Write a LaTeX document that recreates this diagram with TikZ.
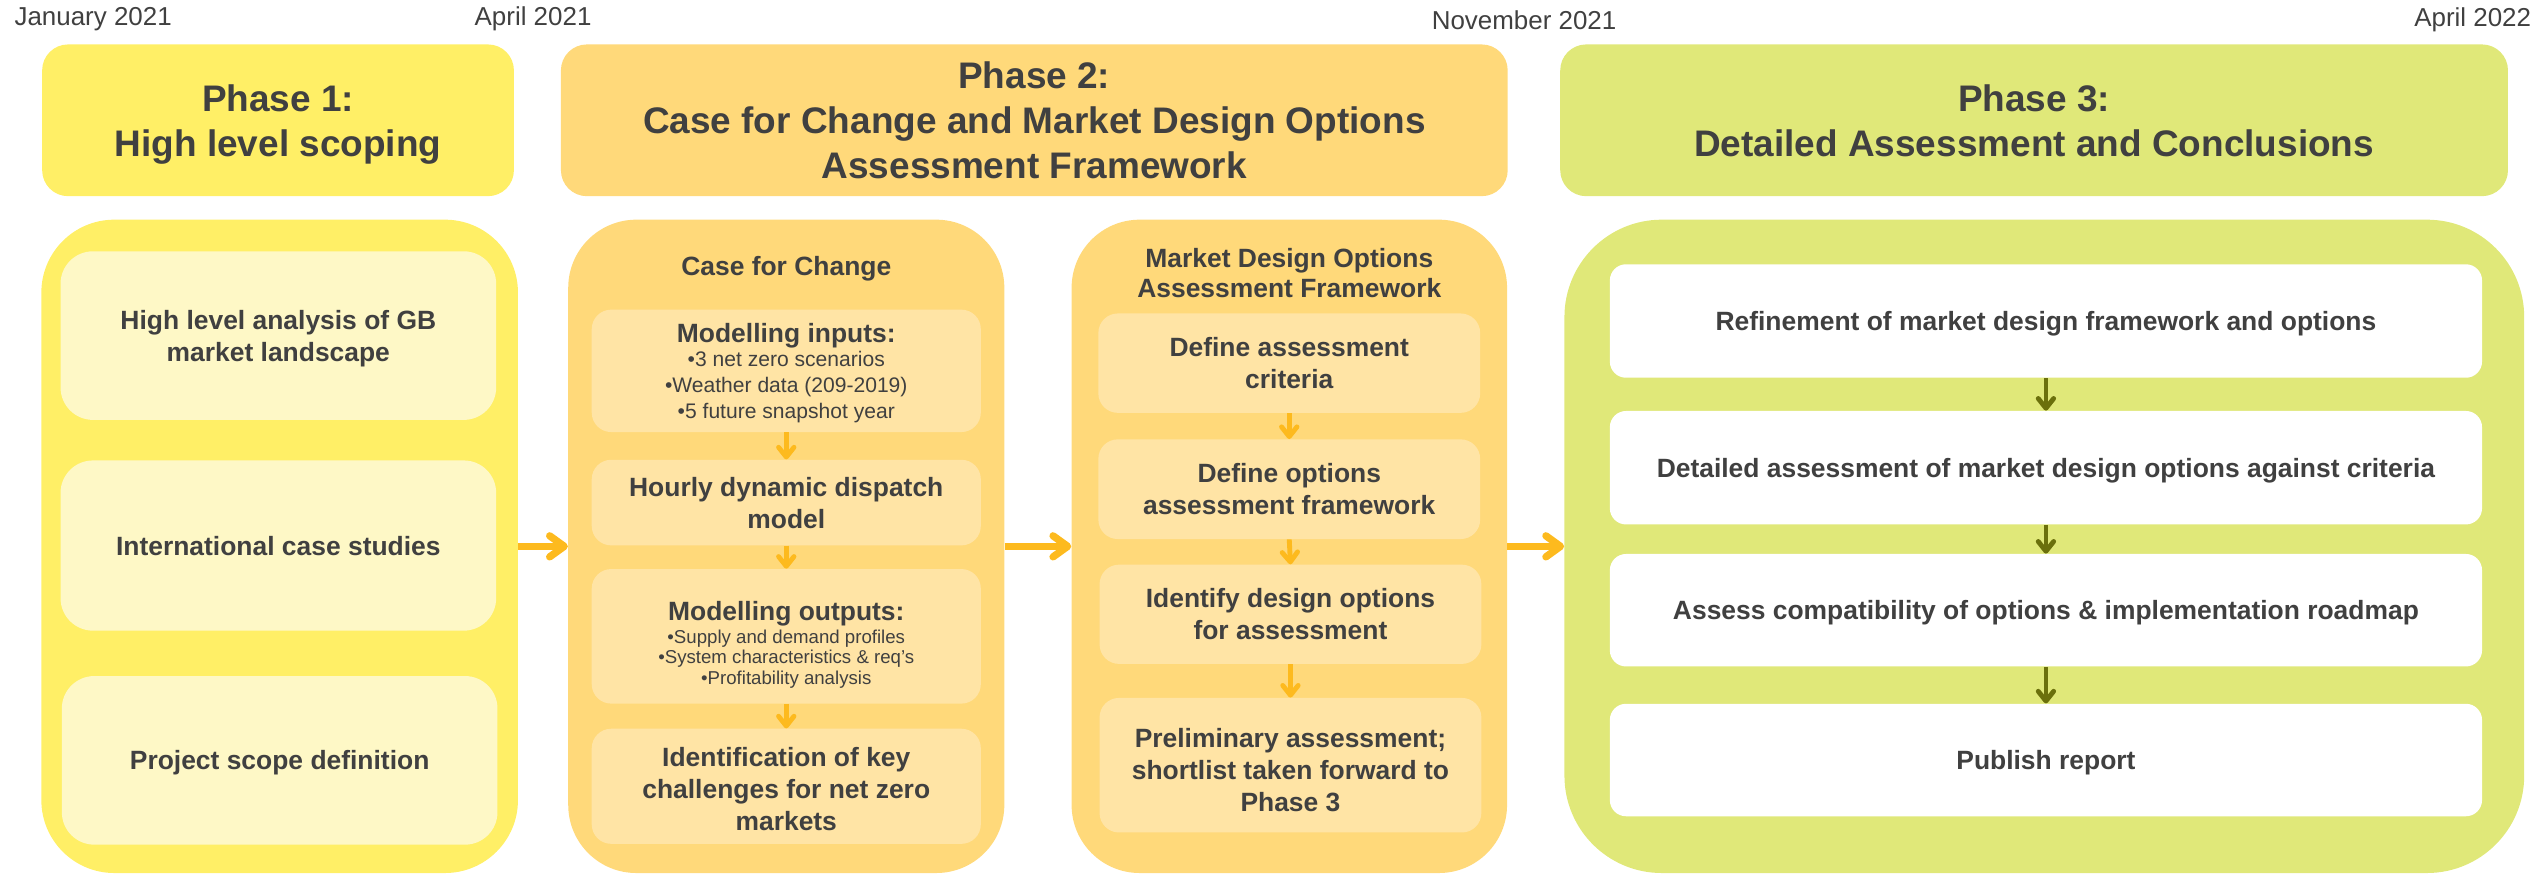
\documentclass[tikz,border=0pt]{standalone}
\usepackage{fontspec}
\setmainfont{Liberation Sans}
\usetikzlibrary{arrows.meta}
\definecolor{pyellow}{HTML}{FFEF66}
\definecolor{pyellowlt}{HTML}{FEF8C6}
\definecolor{porange}{HTML}{FFD97A}
\definecolor{porangelt}{HTML}{FFE4A5}
\definecolor{pgreen}{HTML}{E0E879}
\definecolor{txt}{HTML}{404040}
\definecolor{arr}{HTML}{FDBA1E}
\definecolor{olivearr}{HTML}{6B700C}
\newcommand{\hdrfont}{\fontsize{22.8}{27.7}\selectfont\bfseries}
\newcommand{\boxfont}{\fontsize{16.3}{19.6}\selectfont\bfseries}
\newcommand{\datefont}{\fontsize{16}{19}\selectfont}
\begin{document}
\begin{tikzpicture}[x=1pt,y=-1pt,
 hdr/.style={fill=#1, rounded corners=16pt, inner sep=0pt, text=txt, align=center, font=\hdrfont, text depth=0pt},
 outer/.style={fill=#1, inner sep=0pt, minimum height=403pt},
 ibox/.style={fill=#1, inner sep=0pt, text=txt, align=center, font=\boxfont, text depth=0pt},
 itext/.style={inner sep=0pt, text=txt, align=center, font=\boxfont, text depth=0pt},
 datelbl/.style={text=txt, font=\datefont, inner sep=0pt, anchor=base west},
 bigarrow/.style={draw=arr, line width=4.5pt, -{Straight Barb[length=9pt,width=13pt,round]}},
 smallarrow/.style={draw=#1, line width=3pt, -{Straight Barb[length=6pt,width=9.5pt,round]}},
]
\useasboundingbox (0,0) rectangle (1568,539);

% dates
\node[datelbl] (d1) at (8.8,15.5) {January 2021};
\node[datelbl] (d2) at (292.6,15.5) {April 2021};
\node[datelbl] (d3) at (883,18.1) {November 2021};
\node[datelbl] (d4) at (1489,16.5) {April 2022};

% phase headers
\node[hdr=pyellow, minimum width=291pt, minimum height=93.6pt] (h1) at (171.5,74.2) {Phase 1:\\High level scoping};
\node[hdr=porange, minimum width=584pt, minimum height=93.6pt] (h2) at (638,74.2) {Phase 2:\\Case for Change and Market Design Options\\Assessment Framework};
\node[hdr=pgreen, minimum width=584.6pt, minimum height=93.6pt] (h3) at (1254.7,74.2) {Phase 3:\\Detailed Assessment and Conclusions};

% outer columns
\node[outer=pyellow, rounded corners=45pt, minimum width=294pt] (o1) at (172.5,337) {};
\node[outer=porange, rounded corners=42pt, minimum width=269pt] (cfc) at (485,337) {};
\node[outer=porange, rounded corners=42pt, minimum width=268.6pt] (mdo) at (795.3,337) {};
\node[outer=pgreen, rounded corners=60pt, minimum width=592pt] (o3) at (1261,337) {};

% phase 1 boxes
\node[ibox=pyellowlt, rounded corners=20pt, minimum width=268.7pt, minimum height=104pt] (b1) at (171.7,207) {High level analysis of GB\\market landscape};
\node[ibox=pyellowlt, rounded corners=20pt, minimum width=268.7pt, minimum height=105pt] (b2) at (171.7,336.5) {International case studies};
\node[ibox=pyellowlt, rounded corners=20pt, minimum width=268.7pt, minimum height=104pt] (b3) at (172.5,469) {Project scope definition};

% case for change
\node[itext] (cfct) at (485,164) {Case for Change};
\node[ibox=porangelt, rounded corners=12pt, minimum width=240pt, minimum height=75.5pt, font=\fontsize{13}{16}\selectfont] (inp) at (485,228.75)
 {{\fontsize{16.3}{16}\selectfont\bfseries Modelling inputs:}\\[-1.5pt]•3 net zero scenarios\\•Weather data (209-2019)\\•5 future snapshot year};
\node[ibox=porangelt, rounded corners=12pt, minimum width=240pt, minimum height=52.8pt] (hr) at (485,310) {Hourly dynamic dispatch\\model};
\node[ibox=porangelt, rounded corners=12pt, minimum width=240pt, minimum height=83pt] (outp) at (485,392.5) {};
\node[itext, font=\fontsize{11.5}{12.8}\selectfont] (outpt) at (485,396.5)
 {{\fontsize{16.3}{12.8}\selectfont\bfseries Modelling outputs:}\\[1.5pt]•Supply and demand profiles\\•System characteristics \& req’s\\•Profitability analysis};
\node[ibox=porangelt, rounded corners=12pt, minimum width=240pt, minimum height=71pt] (idn) at (485,485) {};
\node[itext] (idnt) at (485,486.5) {Identification of key\\challenges for net zero\\markets};

% market design options
\node[itext, font=\fontsize{16.3}{19}\selectfont\bfseries] (mdot) at (795.3,168.4) {Market Design Options\\Assessment Framework};
\node[ibox=porangelt, rounded corners=12pt, minimum width=235.5pt, minimum height=61.3pt] (m1) at (795.25,224) {Define assessment\\criteria};
\node[ibox=porangelt, rounded corners=12pt, minimum width=235.5pt, minimum height=61.5pt] (m2) at (795.25,301.75) {Define options\\assessment framework};
\node[ibox=porangelt, rounded corners=12pt, minimum width=235.5pt, minimum height=61.2pt] (m3) at (796,378.9) {Identify design options\\for assessment};
\node[ibox=porangelt, rounded corners=12pt, minimum width=235.5pt, minimum height=83pt] (m4) at (796,472) {};
\node[itext] (m4t) at (796,475) {Preliminary assessment;\\shortlist taken forward to\\Phase 3};

% phase 3
\node[ibox=white, rounded corners=10pt, minimum width=538pt, minimum height=70pt] (r1) at (1262,198) {Refinement of market design framework and options};
\node[ibox=white, rounded corners=10pt, minimum width=538pt, minimum height=70pt] (r2) at (1262,288.5) {Detailed assessment of market design options against criteria};
\node[ibox=white, rounded corners=10pt, minimum width=538pt, minimum height=69.4pt] (r3) at (1262,376.4) {Assess compatibility of options \& implementation roadmap};
\node[ibox=white, rounded corners=10pt, minimum width=538pt, minimum height=69.4pt] (r4) at (1262,468.8) {Publish report};

% arrows between phases
\draw[bigarrow] (o1.east) -- (cfc.west);
\draw[bigarrow] (cfc.east) -- (mdo.west);
\draw[bigarrow] (mdo.east) -- (o3.west);

% arrows inside phase 2
\draw[smallarrow=arr] (inp.south) -- (hr.north);
\draw[smallarrow=arr] (hr.south) -- (outp.north);
\draw[smallarrow=arr] (outp.south) -- (idn.north);
\draw[smallarrow=arr] (m1.south) -- (m2.north);
\draw[smallarrow=arr] (m2.south) -- (m3.north);
\draw[smallarrow=arr] (m3.south) -- (m4.north);

% arrows inside phase 3
\draw[smallarrow=olivearr] (r1.south) -- (r2.north);
\draw[smallarrow=olivearr] (r2.south) -- (r3.north);
\draw[smallarrow=olivearr] (r3.south) -- (r4.north);
\end{tikzpicture}
\end{document}
